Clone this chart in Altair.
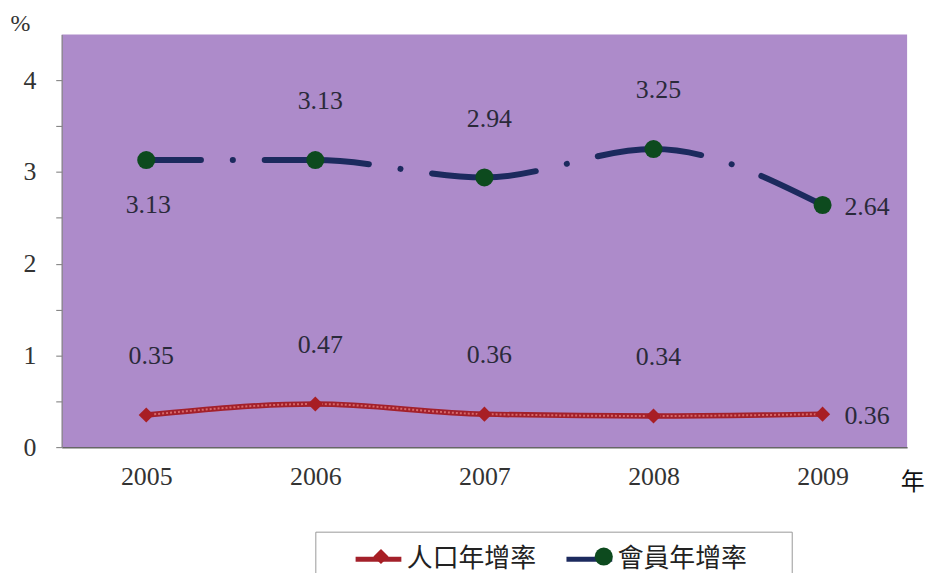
import altair as alt
import pandas as pd

years = ["2005", "2006", "2007", "2008", "2009"]
series_names = ["人口年增率", "會員年增率"]
pop_rate = [0.35, 0.47, 0.36, 0.34, 0.36]
mem_rate = [3.13, 3.13, 2.94, 3.25, 2.64]
pop_label_place = ["above", "above", "above", "above", "right"]
mem_label_place = ["below", "above", "above", "above", "right"]
y_ticks = [0, 0.5, 1, 1.5, 2, 2.5, 3, 3.5, 4]

rows = []
for i, yr in enumerate(years):
    rows.append({"year": yr, "series": series_names[0], "value": pop_rate[i], "place": pop_label_place[i]})
for i, yr in enumerate(years):
    rows.append({"year": yr, "series": series_names[1], "value": mem_rate[i], "place": mem_label_place[i]})
df = pd.DataFrame(rows)
df["label"] = df["value"].map(lambda v: f"{v:.2f}")
df["line_series"] = df["series"]

SERIF = "Liberation Serif"
CJK = "Noto Sans CJK TC"

x_enc = alt.X("year:N", scale=alt.Scale(paddingInner=0, paddingOuter=0),
              axis=alt.Axis(title="年", titleX=843, titleY=36, titleAlign="left",
                            titleBaseline="middle", titleFont=CJK, titleFontSize=24,
                            titleFontWeight="normal", titleColor="#111",
                            labelFont=SERIF, labelFontSize=26, labelColor="#333",
                            labelPadding=30, labelAngle=0, labelAlign="center", ticks=False,
                            domainColor="#666", domainWidth=1.5))
y_enc = alt.Y("value:Q", scale=alt.Scale(domain=[0, 4.5], nice=False),
              axis=alt.Axis(title="%", titleAngle=0, titleX=-42, titleY=-11,
                            titleAlign="center", titleBaseline="middle",
                            titleFont=SERIF, titleFontSize=24, titleFontWeight="normal",
                            titleColor="#333", values=y_ticks,
                            labelExpr="datum.value % 1 == 0 ? format(datum.value, 'd') : ''",
                            labelFont=SERIF, labelFontSize=26, labelColor="#333",
                            labelPadding=20, tickSize=6, tickColor="#777",
                            domainColor="#888", domainWidth=1.2, grid=False))

line_color_scale = alt.Scale(range=["#A3202A", "#1C2A5E"])
point_fill_scale = alt.Scale(domain=series_names, range=["#A81E24", "#0D4A1E"])

base = alt.Chart(df)

common_legend = dict(orient="none", legendX=255, direction="horizontal",
                     title="\u00a0", titleOrient="left", titlePadding=26,
                     titleFontSize=12, labelFont=CJK, labelFontSize=26,
                     labelExpr="datum.label + '\u3000'", columnPadding=19, padding=12)

line_legend = alt.Legend(legendY=490, symbolType="stroke", symbolSize=2116,
                         symbolStrokeWidth=5, labelColor="#222", labelOffset=3,
                         zindex=1, **common_legend)

point_legend = alt.Legend(legendY=500, symbolSize=250, symbolStrokeWidth=0,
                          symbolOffset=15, labelOpacity=0, labelOffset=33,
                          strokeColor="#999", zindex=2, **common_legend)

pop_line = base.transform_filter(alt.datum.series == series_names[0]).mark_line(
    interpolate="monotone", strokeWidth=5.5
).encode(x=x_enc, y=y_enc, stroke=alt.Stroke("line_series:N", scale=line_color_scale, legend=line_legend))

pop_texture = base.transform_filter(alt.datum.series == series_names[0]).mark_line(
    interpolate="monotone", strokeWidth=2, strokeDash=[2, 2], color="#E27A7A", opacity=0.8
).encode(x="year:N", y="value:Q")

mem_line = base.transform_filter(alt.datum.series == series_names[1]).mark_line(
    interpolate="monotone", strokeWidth=6, strokeCap="round",
    strokeDash=[105, 32, 0.1, 32], strokeDashOffset=50
).encode(x="year:N", y="value:Q", stroke=alt.Stroke("line_series:N", scale=line_color_scale, legend=line_legend))

points = base.mark_point(filled=True, opacity=1, strokeWidth=0).encode(
    x="year:N", y="value:Q",
    color=alt.Color("series:N", scale=point_fill_scale, legend=point_legend),
    shape=alt.Shape("series:N", scale=alt.Scale(domain=series_names, range=["diamond", "circle"]),
                    legend=point_legend),
    size=alt.Size("series:N", scale=alt.Scale(domain=series_names, range=[230, 330]), legend=None),
)

text_style = dict(font=SERIF, fontSize=26, color="#2A2A3A", baseline="middle")

labels_above = base.transform_filter(alt.datum.place == "above").mark_text(
    dx=5, dy=-59, align="center", **text_style).encode(x="year:N", y="value:Q", text="label:N")
labels_below = base.transform_filter(alt.datum.place == "below").mark_text(
    dx=2, dy=45, align="center", **text_style).encode(x="year:N", y="value:Q", text="label:N")
labels_right = base.transform_filter(alt.datum.place == "right").mark_text(
    dx=22, dy=2, align="left", **text_style).encode(x="year:N", y="value:Q", text="label:N")

chart = alt.layer(
    mem_line, pop_line, pop_texture, points, labels_above, labels_below, labels_right
).properties(
    width=850, height=415,
    autosize=alt.AutoSizeParams(type="none"),
    padding={"left": 54, "top": 25, "right": 20, "bottom": 125},
).configure_view(fill="#AD8BCA", stroke=None)

chart.save("out.html", embed_options={"renderer": "svg", "actions": False})
